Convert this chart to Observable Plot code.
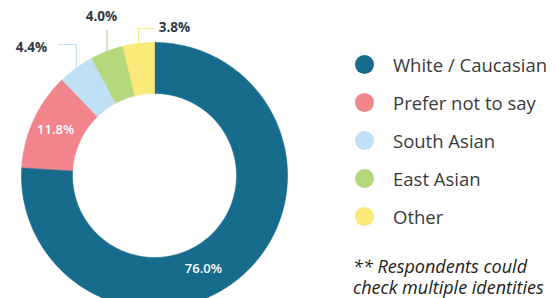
<!DOCTYPE html>
<html>
<head>
<meta charset="utf-8">
<script src="https://cdn.jsdelivr.net/npm/d3@7"></script>
<script src="https://cdn.jsdelivr.net/npm/@observablehq/plot@0.6"></script>
<style>
  html, body { margin: 0; padding: 0; background: #fff; }
  #wrap { position: relative; width: 555px; height: 298px; overflow: hidden; font-family: "Open Sans", sans-serif; }
  #chart { position: absolute; left: 0; top: 0; }
  #legend { position: absolute; left: 354px; top: 46px; }
  .row { display: flex; align-items: center; height: 37.8px; }
  .sw { width: 19px; height: 19px; border-radius: 50%; margin-left: 1px; margin-right: 19px; }
  .lab { font-size: 18.5px; color: #3a3a3a; white-space: nowrap; }
  #note { position: absolute; left: 353px; top: 256px; font-size: 18px; font-style: italic; color: #222; line-height: 21px; white-space: nowrap; }
</style>
</head>
<body>
<div id="wrap">
  <div id="chart"></div>
  <div id="legend"></div>
  <div id="note">** Respondents could<br>check multiple identities</div>
</div>
<script>
const categories = ["White / Caucasian", "Prefer not to say", "South Asian", "East Asian", "Other"];
const values = [76.0, 11.8, 4.4, 4.0, 3.8];
const colors = ["#176b8c", "#f2848b", "#bfe0f5", "#b5d77c", "#fbe97a"];
const valueLabels = ["76.0%", "11.8%", "4.4%", "4.0%", "3.8%"];

// layout (pixels relative to donut centre, y pointing down)
const R = 133, r = 82;
const total = d3.sum(values);
let acc = 0;
const segs = values.map((v, i) => {
  const a0 = acc / total * 2 * Math.PI;
  acc += v;
  const a1 = acc / total * 2 * Math.PI;
  return {cat: categories[i], value: v, label: valueLabels[i], a0, a1, mid: (a0 + a1) / 2, i};
});
const px = (rad, a) => rad * Math.sin(a);
const py = (rad, a) => -rad * Math.cos(a);

// arc polygons
const poly = [];
for (const s of segs) {
  const n = Math.max(4, Math.ceil((s.a1 - s.a0) / 0.01));
  for (let k = 0; k <= n; k++) {
    const a = s.a0 + (s.a1 - s.a0) * k / n;
    poly.push({cat: s.cat, x: px(R, a), y: py(R, a)});
  }
  for (let k = n; k >= 0; k--) {
    const a = s.a0 + (s.a1 - s.a0) * k / n;
    poly.push({cat: s.cat, x: px(r, a), y: py(r, a)});
  }
}

// inside labels
const inside = segs.slice(0, 2).map(s => {
  const a = s.i === 0 ? s.mid + 0.27 : s.mid;
  const rr = s.i === 0 ? 105 : 109;
  return {label: s.label, x: px(rr, a), y: py(rr, a)};
});

// leader lines + outside labels
const leaderTop = [-131, -145, -147];
const leaderEnd = [-96, null, -2];
const outLabelPos = [[-123, -128], [-53, -159], [20, -148]];
const leaders = [];
const outside = [];
segs.slice(2).forEach((s, j) => {
  const x0 = px(R, s.mid), y0 = py(R, s.mid);
  leaders.push({cat: s.cat, x: x0, y: y0});
  leaders.push({cat: s.cat, x: x0, y: leaderTop[j]});
  if (leaderEnd[j] !== null) leaders.push({cat: s.cat, x: leaderEnd[j], y: leaderTop[j]});
  outside.push({label: s.label, x: outLabelPos[j][0], y: outLabelPos[j][1]});
});

const W = 340, H = 298, cx = 154, cy = 175;
const chart = Plot.plot({
  width: W, height: H,
  margin: 0,
  style: {fontFamily: "Open Sans, sans-serif", background: "transparent", overflow: "visible"},
  x: {domain: [-cx, W - cx], range: [0, W], axis: null},
  y: {domain: [-cy, H - cy], range: [0, H], axis: null},
  color: {domain: categories, range: colors},
  marks: [
    Plot.line(poly, {x: "x", y: "y", z: "cat", fill: "cat", stroke: "cat", strokeWidth: 0.6, curve: "linear-closed"}),
    Plot.line(leaders, {x: "x", y: "y", z: "cat", stroke: "cat", strokeWidth: 1.2}),
    Plot.text(inside, {x: "x", y: "y", text: "label", fill: "#ffffff", fontSize: 13, fontWeight: 600}),
    Plot.text(outside, {x: "x", y: "y", text: "label", fill: "#2e3a44", fontSize: 13.5, fontWeight: 700})
  ]
});
document.getElementById("chart").appendChild(chart);

const leg = document.getElementById("legend");
categories.forEach((c, i) => {
  const row = document.createElement("div");
  row.className = "row";
  const sw = document.createElement("span");
  sw.className = "sw";
  sw.style.background = colors[i];
  const t = document.createElement("span");
  t.className = "lab";
  t.textContent = c;
  row.appendChild(sw);
  row.appendChild(t);
  leg.appendChild(row);
});
</script>
</body>
</html>
